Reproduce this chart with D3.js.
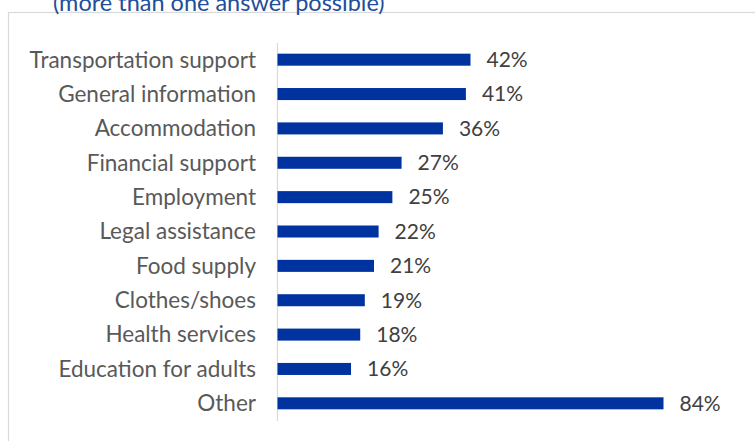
<!DOCTYPE html>
<html>
<head>
<meta charset="utf-8">
<script src="https://cdn.jsdelivr.net/npm/d3@7"></script>
<style>
  html, body { margin: 0; padding: 0; background: #fff; }
  svg { display: block; }
</style>
</head>
<body>
<svg id="chart" width="755" height="441"></svg>
<script>
// Support needs, share of respondents (more than one answer possible)
const categories = [
  "Transportation support",
  "General information",
  "Accommodation",
  "Financial support",
  "Employment",
  "Legal assistance",
  "Food supply",
  "Clothes/shoes",
  "Health services",
  "Education for adults",
  "Other"
];
const values = [42, 41, 36, 27, 25, 22, 21, 19, 18, 16, 84];
const subtitle = "(more than one answer possible)";

const W = 755, H = 441;
const font = "Lato, 'Open Sans', sans-serif";
const svg = d3.select("#chart");

// chart frame
svg.append("rect")
  .attr("x", 8.5).attr("y", 12.5)
  .attr("width", 800).attr("height", 500)
  .attr("fill", "#fff")
  .attr("stroke", "#d9d9d9")
  .attr("stroke-width", 1.2);

// subtitle sits on the frame's top edge and is partly cut by the page top
svg.append("text")
  .attr("x", 53)
  .attr("y", 11)
  .attr("fill", "#1f4e9b")
  .attr("font-family", font)
  .attr("font-size", 23.5)
  .text(subtitle);

const data = categories.map((c, i) => ({ c, v: values[i] }));

const x = d3.scaleLinear().domain([0, 84]).range([277.5, 663.5]);
const y = d3.scaleBand().domain(categories).range([42.5, 420.5])
  .paddingInner(0.65).paddingOuter(0.325);

// category labels via a left axis
const yAxis = svg.append("g")
  .attr("transform", `translate(${x(0) - 0.5},0)`)
  .call(d3.axisLeft(y).tickSize(0).tickPadding(21));
yAxis.select(".domain").attr("stroke", "#d9d9d9").attr("stroke-width", 1.2);
yAxis.selectAll("text")
  .attr("fill", "#595959")
  .attr("font-family", font)
  .attr("font-size", 22.5)
  .attr("dy", "0.35em");

// bars
svg.append("g").selectAll("rect")
  .data(data).join("rect")
  .attr("x", x(0))
  .attr("y", d => y(d.c))
  .attr("width", d => x(d.v) - x(0))
  .attr("height", y.bandwidth())
  .attr("fill", "#0033a0");

// value labels
svg.append("g").selectAll("text")
  .data(data).join("text")
  .attr("x", d => x(d.v) + 16)
  .attr("y", d => y(d.c) + y.bandwidth() / 2)
  .attr("dy", "0.35em")
  .attr("fill", "#404040")
  .attr("font-family", font)
  .attr("font-size", 21)
  .text(d => d.v + "%");
</script>
</body>
</html>
